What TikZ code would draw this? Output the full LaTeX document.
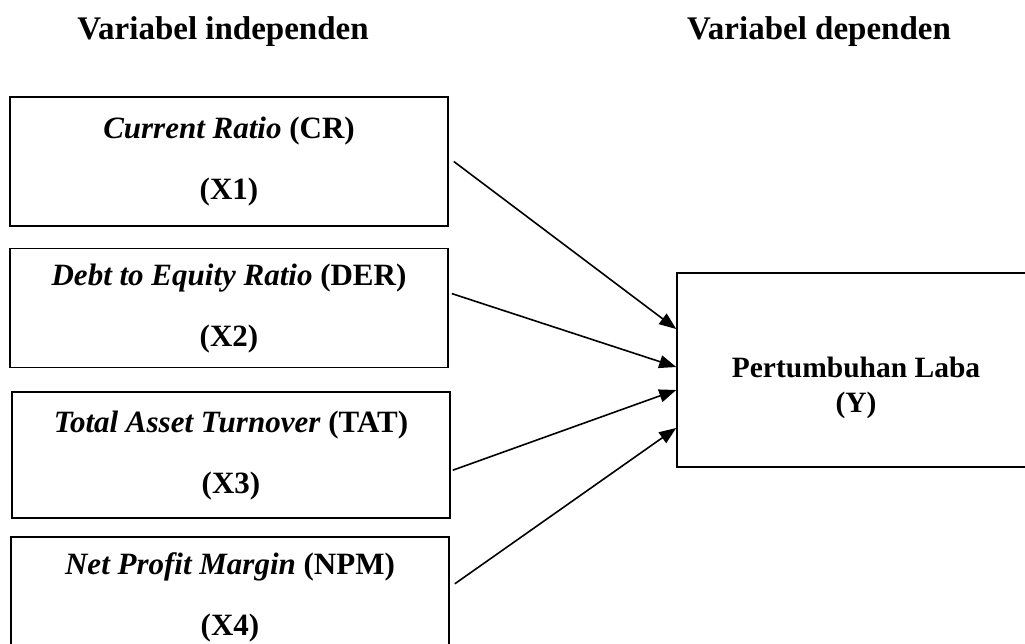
\documentclass[tikz,border=0pt]{standalone}
\usepackage{fontspec}
\setmainfont{Liberation Serif}
\usetikzlibrary{arrows.meta,positioning}

\begin{document}
\begin{tikzpicture}[>={Triangle[length=17pt,width=13pt]}, x=1pt, y=-1pt, node distance=21pt,
    varbox/.style={draw,line width=1.6pt,minimum width=438pt,inner sep=0pt,align=center,
      font=\fontsize{31}{61}\selectfont\bfseries},
    head/.style={font=\fontsize{33}{38}\selectfont\bfseries}]
  \useasboundingbox (0,0) rectangle (1025,644);

  \node[head] (hx) at (223,32) {Variabel independen};
  \node[head] (hy) at (819,32) {Variabel dependen};

  \node[varbox,minimum height=129pt] (x1) at (229,161.5) {\textit{Current Ratio} (CR)\\(X1)};
  \node[varbox,minimum height=119pt,below=of x1] (x2) {\textit{Debt to Equity Ratio} (DER)\\(X2)};
  \node[varbox,minimum height=126pt,below=23pt of x2,xshift=2pt] (x3) {\textit{Total Asset Turnover} (TAT)\\(X3)};
  \node[varbox,minimum height=122pt,below=17pt of x3,xshift=-1pt] (x4) {\textit{Net Profit Margin} (NPM)\\(X4)};

  \node[draw,line width=1.6pt,minimum width=358pt,minimum height=194pt] (y) at (856,370) {};
  \node[align=center,font=\fontsize{29.5}{35}\selectfont\bfseries] (ylab) at ([yshift=-18pt]y.center) {Pertumbuhan Laba\\(Y)};

  \draw[->,line width=1.6pt] ([xshift=5pt]x1.east) -- ([yshift=41pt]y.west);
  \draw[->,line width=1.6pt] ([xshift=3pt,yshift=14.5pt]x2.east) -- ([yshift=3pt]y.west);
  \draw[->,line width=1.6pt] ([xshift=2pt,yshift=-15pt]x3.east) -- ([yshift=-20pt]y.west);
  \draw[->,line width=1.6pt] ([xshift=5pt,yshift=14pt]x4.east) -- ([yshift=-58pt]y.west);
\end{tikzpicture}
\end{document}
